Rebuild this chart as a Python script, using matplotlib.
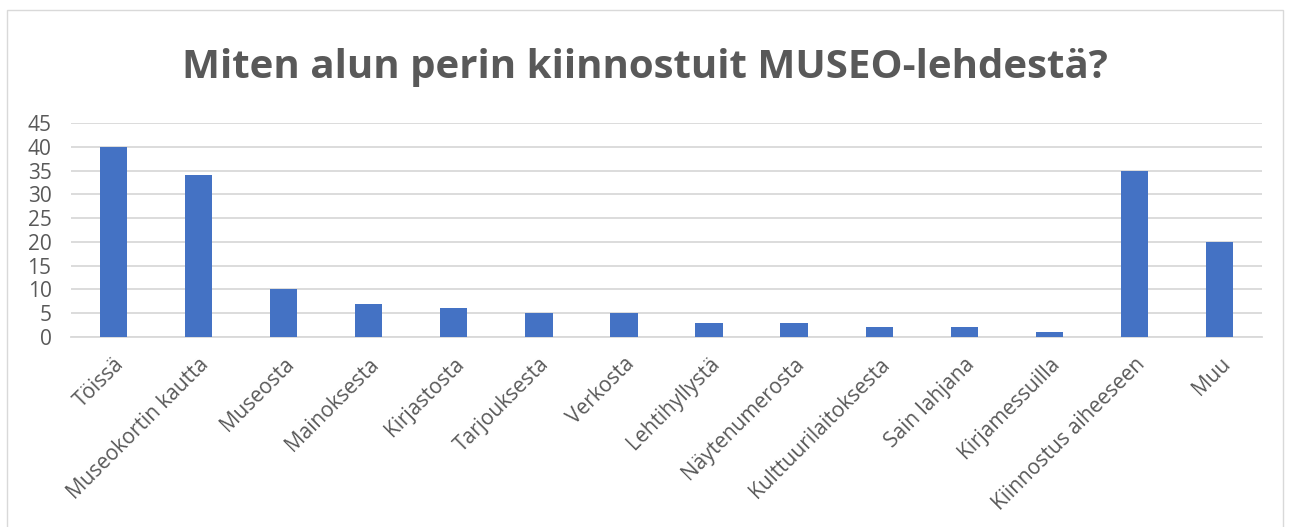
import matplotlib
import matplotlib.pyplot as plt
from matplotlib.patches import Rectangle

matplotlib.use('Agg')

# data
categories = ["Töissä", "Museokortin kautta", "Museosta", "Mainoksesta",
              "Kirjastosta", "Tarjouksesta", "Verkosta", "Lehtihyllystä",
              "Näytenumerosta", "Kulttuurilaitoksesta", "Sain lahjana",
              "Kirjamessuilla", "Kiinnostus aiheeseen", "Muu"]
counts = [40, 34, 10, 7, 6, 5, 5, 3, 3, 2, 2, 1, 35, 20]
y_ticks = [0, 5, 10, 15, 20, 25, 30, 35, 40, 45]

title = "Miten alun perin kiinnostuit MUSEO-lehdestä?"
text_grey = "#595959"
bar_blue = "#4472C4"

plt.rcParams['font.family'] = ['Open Sans', 'DejaVu Sans']

fig = plt.figure(figsize=(12.9, 5.27), dpi=100)
ax = fig.add_axes([71 / 1290, 1 - 337 / 527, (1262 - 71) / 1290, (337 - 123) / 527])

x = range(len(categories))
ax.bar(x, counts, width=0.32, color=bar_blue, zorder=3)

ax.set_xlim(-0.5, len(categories) - 0.5)
ax.set_ylim(0, 45)
ax.set_yticks(y_ticks)
ax.set_xticks(list(x))
ax.set_xticklabels(categories, rotation=45, ha='right', rotation_mode='anchor')
ax.tick_params(axis='both', length=0, labelsize=15, colors=text_grey)
ax.tick_params(axis='y', pad=14)
ax.tick_params(axis='x', pad=12)
ax.grid(axis='y', color='#d9d9d9', linewidth=1.3, zorder=0)
for side in ['top', 'right', 'left']:
    ax.spines[side].set_visible(False)
ax.spines['bottom'].set_color('#d9d9d9')
ax.spines['bottom'].set_linewidth(1.3)

fig.text(0.5, 1 - 78 / 527, title, ha='center', va='baseline',
         fontsize=29, fontweight='bold', color=text_grey)

# light chart border like the spreadsheet export
fig.patches.append(Rectangle((7 / 1290, -0.01), (1283 - 7) / 1290, 1 - 10 / 527 + 0.01,
                             transform=fig.transFigure, fill=False,
                             edgecolor='#d9d9d9', linewidth=1))

fig.savefig("out.png", dpi=100)
